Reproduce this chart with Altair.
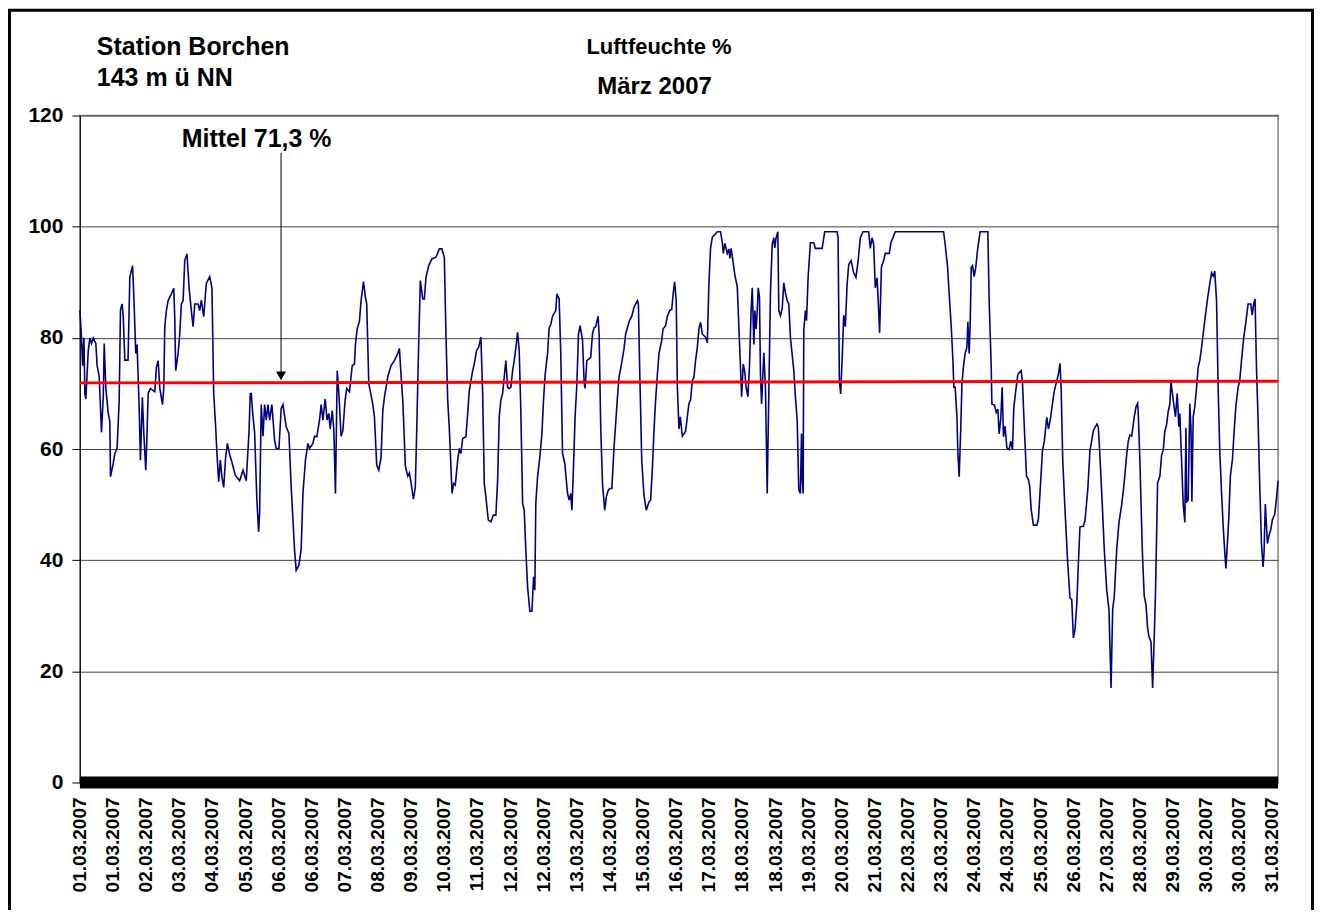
import altair as alt
import pandas as pd

# ---- data (hours since 01.03.2007 00:00, relative humidity %) ----
hours = [
    0.0, 1.0, 1.7, 2.5, 3.1, 3.7, 5.2, 6.2, 7.2, 8.3, 9.9, 10.7, 12.0, 13.4, 14.5, 15.1, 16.1, 17.6, 18.6, 19.0,
    20.7, 21.7, 23.1, 24.4, 25.2, 26.2, 26.9, 27.9, 29.9, 31.0, 32.7, 33.5, 34.7, 35.5, 36.8, 37.6, 38.8, 39.7,
    40.9, 41.7, 42.4, 43.8, 46.5, 47.5, 48.6, 49.6, 51.3, 52.1, 52.7, 53.7, 54.8, 56.8, 58.3, 58.9, 59.5, 61.0,
    62.0, 63.0, 64.1, 65.1, 66.5, 67.8, 69.2, 70.3, 71.3, 73.4, 74.4, 75.4, 76.9, 78.5, 80.6, 82.0, 83.1, 84.3,
    85.1, 86.2, 87.2, 88.2, 89.3, 90.5, 91.6, 93.0, 94.7, 96.5, 99.2, 101.3, 103.3, 105.0, 105.8, 106.4, 107.5,
    108.5, 109.9, 111.0, 111.6, 112.6, 113.7, 114.7, 115.7, 116.8, 117.8, 119.2, 120.9, 121.9, 123.6, 125.0,
    126.1, 128.1, 129.8, 131.2, 133.3, 134.3, 136.0, 137.4, 138.5, 140.1, 141.6, 142.6, 144.7, 145.7, 147.1,
    148.8, 149.8, 150.9, 152.3, 153.5, 154.6, 155.4, 156.7, 157.7, 158.7, 159.8, 160.8, 162.2, 163.3, 164.7,
    165.7, 167.4, 169.1, 170.5, 171.1, 172.2, 173.6, 174.6, 176.1, 177.3, 178.1, 179.4, 180.2, 181.9, 182.9,
    184.3, 185.6, 187.0, 188.1, 189.1, 191.2, 193.2, 195.3, 197.4, 198.4, 199.4, 200.5, 202.1, 203.6, 204.6,
    205.6, 207.1, 208.3, 209.1, 210.4, 211.4, 212.9, 213.9, 214.9, 216.6, 218.6, 221.1, 223.2, 224.8, 226.3,
    227.3, 228.4, 229.4, 231.1, 232.1, 233.1, 234.6, 235.6,
    236.6, 237.7, 239.7, 240.8, 241.8, 243.9, 244.9, 246.3, 247.6, 249.0, 250.1, 251.1, 252.1, 253.6, 255.2,
    256.7, 258.3, 259.4, 260.4, 261.4, 262.5, 263.5, 264.5, 265.6, 266.6, 267.6, 268.7, 269.7, 270.3, 271.8,
    272.8, 273.8, 274.9, 275.9, 276.9, 278.0, 279.4, 280.7, 281.7, 282.5, 283.1, 284.2, 285.6, 286.9, 287.9,
    288.9, 290.4, 291.4, 292.4, 293.5, 295.5, 296.2, 297.6, 298.6, 299.7, 301.1, 302.8, 303.8, 304.8, 305.5,
    306.3, 307.5, 308.6, 309.6, 310.6, 312.1, 313.1, 313.7, 314.8, 317.2, 318.3, 319.3, 320.3, 321.8, 322.4,
    323.4, 324.5, 325.9, 326.9, 328.0, 329.0, 330.3, 331.7, 333.8, 334.8, 335.8, 336.9, 337.9, 338.9, 341.0,
    342.7, 344.1, 346.2, 346.8, 347.6, 348.9, 350.3, 351.7, 353.4, 354.4, 355.5, 356.5, 357.5, 358.6, 359.6,
    361.3, 362.1, 363.7, 364.8, 366.2, 367.5, 368.5, 369.3, 370.3, 371.0, 372.0, 372.8, 374.1, 376.1, 377.2,
    378.2, 379.2, 380.3, 381.3, 382.3, 383.4, 384.4, 385.4, 386.5, 388.5, 389.6, 390.6, 391.6, 392.7, 395.8,
    397.8, 398.9, 399.5, 400.5, 402.0, 403.0, 403.6, 404.4, 405.7, 406.7, 408.2, 409.2, 410.2, 410.9, 411.9,
    412.9, 413.7, 414.8, 415.8, 416.8, 417.5, 418.5, 419.1, 419.9, 420.6, 421.2, 422.0, 422.6, 423.3, 424.1,
    424.7, 425.7, 426.8, 427.8, 428.8, 429.9, 430.9, 431.5, 432.3, 433.4, 434.0, 435.0, 436.1, 437.1, 438.1,
    439.2, 440.2, 441.2, 443.3, 444.3, 445.4, 446.4, 447.4, 448.1, 448.5, 449.1, 449.5, 450.5, 451.2, 452.2,
    453.6, 455.7, 456.7, 460.9, 462.5, 470.2, 470.8, 471.6, 472.4, 473.3, 474.3, 475.3, 476.4, 477.4, 478.9,
    480.5, 481.9, 483.2, 484.6, 486.3, 489.8, 490.8, 491.9, 492.9, 493.9, 495.0, 496.0, 496.6, 497.7, 499.1,
    500.1, 502.6, 503.6, 504.7, 506.3, 536.3, 537.3, 538.8, 539.8, 541.1, 542.1, 542.7, 543.5, 544.6, 545.2,
    546.0, 547.0, 547.7, 548.7, 549.7, 550.8, 551.4, 552.2, 552.8, 553.5, 554.3, 555.3, 556.3, 557.4, 559.0,
    563.8, 564.6, 565.9, 566.3, 567.9, 569.0, 570.0, 570.8, 571.8, 572.7, 573.5, 574.5, 575.6, 577.0, 578.0,
    579.1, 579.9, 581.1, 582.4, 583.2, 584.5, 585.3, 586.5, 587.8, 589.0, 589.8, 590.7, 592.1, 594.2, 595.2,
    596.2, 597.7, 598.9, 600.4, 601.4, 602.8, 603.9, 604.9, 606.6, 607.6, 608.6, 609.3, 610.3, 611.7, 613.4,
    614.8, 615.9, 616.9, 617.9, 619.0, 620.0, 621.0, 623.1, 624.1, 625.8, 627.2, 628.3, 629.3, 630.3, 631.6,
    632.4, 633.4, 634.9, 636.1, 637.6, 639.0, 640.3, 641.3, 642.3, 643.8, 645.2, 646.9, 647.9, 648.9, 650.0,
    651.0, 652.0, 653.1, 654.7, 655.8, 656.8, 657.2, 658.2, 659.7, 660.9, 662.0, 663.0, 663.8, 665.1, 666.1,
    667.1, 667.9, 669.2, 670.6, 671.7, 672.7, 673.7, 674.8, 675.8, 676.8, 677.5, 678.9, 680.3, 681.4, 682.4,
    683.0, 684.1, 685.1, 686.1, 686.8, 687.2, 688.2, 689.2, 689.9, 690.5, 691.3, 692.3, 693.4, 694.4, 695.4,
    696.5, 697.5, 698.5, 700.2, 701.6, 702.7, 703.7, 704.7, 705.8, 706.8, 707.8, 708.9, 709.9, 710.5, 711.6,
    712.6, 713.4, 714.4, 715.7, 716.7, 717.8, 719.2, 720.2, 721.3, 722.7, 724.0, 725.4, 727.1, 727.9, 728.9,
    729.7, 730.6, 731.6, 732.6, 733.7, 734.7, 735.3, 736.1, 737.4, 738.4, 739.5, 740.5, 741.9, 743.0, 744.0,
]
humidity = [
    85, 80, 75, 80, 70, 69, 77.7, 80, 79, 80, 79, 75, 73, 63, 69.3, 79, 71, 66.4, 65, 55,
    57.4, 59.2, 60.1, 68.7, 85, 86.1, 84, 76, 76, 90.9, 93, 87.5, 77.2, 78.8, 67.5, 58, 69.3, 62.8,
    56.2, 62.8, 70, 70.9, 70.3, 74.7, 75.9, 71, 68, 71, 81.9, 84.9, 86.7, 87.9, 88.9, 83.6, 74.1, 77.2,
    80.7, 86.1, 86.7, 93.9, 95.1, 89, 84.9, 82, 86.1, 86.1, 84.9, 86.8, 83.8, 89.8, 91, 89, 70, 64,
    59.2, 54.1, 58, 55, 53.1, 58.5, 61, 59, 57.3, 55.3, 54.3, 56.2, 54.3, 63, 70, 70, 65.8,
    63, 50.8, 45.1, 48.5, 68, 62.3, 68, 65.2, 68, 65.2, 68, 61.6, 60.1, 60.1, 67.3,
    68, 64, 62.8, 53.2, 41.8, 38.2, 39.1, 42, 52, 58.1, 61, 60.1, 61, 62.3, 62.2,
    65.2, 68, 65.2, 69, 65.2, 66.4, 63.6, 66.9, 63.3, 52, 74.1, 70, 62.3, 63.3, 68.8,
    70.9, 70.3, 75, 75.3, 78.8, 81.6, 83, 86.7, 90.1, 87.3, 86.1, 71.7, 70.6, 68, 65.8,
    57.1, 56.2, 58.5, 66.9, 69.3, 73, 75, 75.9, 77.2, 78.1, 73.4, 68.8, 56.9, 55.1, 55.7,
    54, 51, 53.2, 62.8, 79.2, 90.3, 87, 87, 90.9, 93, 94.2, 94.5, 96, 96, 94.5,
    80.7, 68.8, 63.6, 52, 53.8, 53.5, 58, 60.1,
    59.2, 61.9, 62.2, 66.4, 70.5, 74.1, 75.3, 77.7, 78.3, 80.1, 70, 53.8, 51.4, 47.2, 46.9,
    48.1, 48.1, 54.4, 65.8, 68.8, 70, 73, 75.9, 71.1, 70.9, 71.1, 74.1, 75.9, 77.2, 81,
    77.7, 66.9, 50.2, 49, 41.8, 35.2, 30.8, 30.8, 37, 34.6, 50.2, 55, 58.5, 62.8, 68.8,
    73.4, 77.2, 81.8, 82.4, 83.9, 84.9, 87.9, 87, 77.2, 59.2, 57.4, 52, 50.8, 52, 49,
    55, 65.8, 71.7, 80.7, 82.2, 79.6, 72, 70.9, 75.9, 76.5, 80.7, 81.8, 82, 83.9, 80.7,
    64, 53.8, 49, 51.4, 52.5, 52.9, 52.9, 60.4, 69.3, 73, 74.5, 76.3, 78.1, 80.7, 82.9,
    83.9, 85.5, 86.7, 86.1, 74.5, 57.7, 51.6, 49, 50.5, 50.8, 56.6, 63.4, 68.8, 73.4, 77.2,
    79.6, 81.6, 82.2, 83.9, 84.9, 85.1, 88.2, 90.1, 86.7, 71.1, 63.6, 65.8, 62.3, 63.2, 65.8,
    68.2, 68.8, 72.3, 72.9, 75.9, 78.3, 81.6, 82.8, 80.7, 80.1, 79.1, 89.8, 96.1, 98.1, 99.1,
    99.1, 97.2, 95.2, 97, 95.2, 96, 94.3, 96.1, 93.4, 91.3, 89.2, 81.9, 74.7, 69.4, 75.3,
    73.8, 71.1, 69.4, 75, 84.9, 89, 78.8, 84.9, 81.6, 84.9, 89, 87.3, 73.4, 68.1, 73.4,
    77.3, 71.1, 52, 70.4, 88, 96.8, 98, 96.2, 98, 99.1, 84.9, 84, 85.3, 89.9, 88.1,
    86.7, 86.1, 80.1, 74.1, 69.4, 65.2, 52.6, 52, 62.8, 55, 52, 81.3, 84.9, 83.1, 91,
    97.1, 97.1, 96.1, 96.1, 99.1, 99.1, 98, 72.3, 69.9, 76, 84.1, 82, 89.6, 93.2, 93.9,
    91.7, 90.9, 93.7, 98, 99.1, 99.1, 96.1, 98, 96.8, 89, 90.8, 84.9, 80.9, 92.7, 93.9,
    95.2, 95.2, 97.1, 97.9, 99.1, 99.1, 96.8, 92.7, 87.8, 81.9, 75.9, 71.1, 71.1, 65.8, 59.2,
    55, 64, 71.7, 75, 77.2, 78.3, 82.9, 77.2, 82.3, 92.7, 93, 91, 92.7, 95.8, 99.1,
    99.1, 86.7, 74.7, 68.1, 67.9, 66.6, 67.2, 62.7, 65.4, 71.1, 62.2, 64.1, 60.2, 59.9, 61.4,
    59.9, 67.4, 70.4, 73.4, 73.7, 74.1, 71.9, 63.5, 55.1, 54.5, 53.3, 49.1, 46.3, 46.3, 47.4,
    52.2, 59.7, 61.5, 65.7, 63.6, 65.7, 68.1, 70.2, 72.3, 73.4, 75.4, 71.1, 58, 49.1, 39.4,
    33.2, 32.9, 26, 27.5, 31.9, 39.4, 46, 46.1, 47.1, 52.5, 59.7, 61.5, 63.3, 63.9, 64.5,
    63.9, 58.7, 49.7, 41.9, 34.7, 31.1, 17, 31.1, 33.5, 41.9, 46.7, 50, 52.4, 55.4, 59,
    61.4, 62.5, 62.3, 65.8, 67.6, 68.2, 66.4, 57.9, 41.9, 33.5, 32, 27.8, 26.3, 25.3, 17,
    25.9, 34.1, 53.9, 55.1, 58.9, 59.8, 63.2, 64.4, 66.8, 68, 72.1, 68.8, 65.8, 70, 64,
    66.4, 57.9, 50.1, 46.8, 63.8, 50.5, 50.8, 68.2, 64, 50.5, 65.8, 67.6, 71.1, 74.7, 75.9,
    78.3, 80.7, 83.1, 87, 89.7, 91.7, 91.1, 92, 86.7, 71.1, 59.7, 52.2, 46.3, 43.3, 38.5,
    43.3, 47.5, 55.2, 58.2, 63, 67.7, 71.1, 72.3, 75.9, 80.1, 82.8, 86.1, 86.1, 84.1, 86.1,
    87, 74.7, 65.2, 53.8, 43, 38.8, 41.3, 50.1, 43, 44.5, 45.5, 47.3, 48.2, 51, 54.3,
]

x_labels = [
    "01.03.2007", "01.03.2007", "02.03.2007", "03.03.2007", "04.03.2007", "05.03.2007", "06.03.2007",
    "06.03.2007", "07.03.2007", "08.03.2007", "09.03.2007", "10.03.2007", "11.03.2007", "12.03.2007",
    "12.03.2007", "13.03.2007", "14.03.2007", "15.03.2007", "16.03.2007", "17.03.2007", "18.03.2007",
    "18.03.2007", "19.03.2007", "20.03.2007", "21.03.2007", "22.03.2007", "23.03.2007", "24.03.2007",
    "24.03.2007", "25.03.2007", "26.03.2007", "27.03.2007", "28.03.2007", "29.03.2007", "30.03.2007",
    "30.03.2007", "31.03.2007",
]
y_ticks = [0, 20, 40, 60, 80, 100, 120]

mean_hours = [0, 744]
mean_values = [71.9, 72.2]

title_station = "Station Borchen"
title_height = "143 m ü NN"
title_param = "Luftfeuchte %"
title_month = "März 2007"
mean_label = "Mittel 71,3 %"

LABEL_STEP = 20.57  # hours between category labels (category axis label interval)

assert len(hours) == len(humidity)

df = pd.DataFrame({"h": hours, "v": humidity})
mean_df = pd.DataFrame({"h": mean_hours, "v": mean_values})
label_df = pd.DataFrame({"h": [i * LABEL_STEP for i in range(len(x_labels))], "label": x_labels})
one = alt.Data(values=[{}])

FONT = "Liberation Sans"
x_scale = alt.Scale(domain=[0, 744], nice=False)
y_scale = alt.Scale(domain=[0, 120], nice=False)

x_axis = alt.Axis(labels=False, ticks=False, domain=False, grid=False, title=None)
y_axis = alt.Axis(
    values=y_ticks, labelFontSize=21, labelFontWeight="bold", labelColor="black", labelFont=FONT,
    labelPadding=9, tickSize=8, tickColor="black", domainColor="black", domainWidth=1,
    grid=True, gridColor="#404040", gridWidth=1, title=None,
)

border = alt.Chart(one).mark_rect(
    x=-70.5, x2=1234.5, y=-105.5, y2=820, fillOpacity=0, stroke="black", strokeWidth=3
)
band = alt.Chart(one).mark_rect(x=0, x2=1200, y=662, y2=674, color="black")

line = alt.Chart(df).mark_line(color="#000080", strokeWidth=1.6).encode(
    x=alt.X("h:Q", scale=x_scale, axis=x_axis),
    y=alt.Y("v:Q", scale=y_scale, axis=y_axis),
)
trend = alt.Chart(mean_df).mark_line(color="#ff0000", strokeWidth=3).encode(
    x=alt.X("h:Q"), y=alt.Y("v:Q")
)

x_label_text = alt.Chart(label_df).mark_text(
    angle=270, align="right", baseline="middle", fontSize=19, fontWeight="bold",
    font=FONT, color="black", y=683
).encode(x=alt.X("h:Q"), text="label:N")

arrow_line = alt.Chart(one).mark_rule(color="black", strokeWidth=1).encode(
    x=alt.datum(124.9), y=alt.datum(113.3), y2=alt.datum(73.8)
)
arrow_head = alt.Chart(one).mark_point(
    shape="triangle-down", filled=True, size=100, color="black", opacity=1
).encode(x=alt.datum(124.9), y=alt.datum(73.17))
mittel = alt.Chart(one).mark_text(
    text=mean_label, align="left", baseline="alphabetic", fontSize=25, fontWeight="bold",
    font=FONT, color="black"
).encode(x=alt.datum(63.2), y=alt.datum(114.25))

t1 = alt.Chart(one).mark_text(text=title_station, x=17, y=-60.5, align="left", baseline="alphabetic",
                              fontSize=25, fontWeight="bold", font=FONT, color="black")
t2 = alt.Chart(one).mark_text(text=title_height, x=17, y=-30, align="left", baseline="alphabetic",
                              fontSize=25, fontWeight="bold", font=FONT, color="black")
t3 = alt.Chart(one).mark_text(text=title_param, x=580, y=-62, align="center", baseline="alphabetic",
                              fontSize=22, fontWeight="bold", font=FONT, color="black")
t4 = alt.Chart(one).mark_text(text=title_month, x=575.5, y=-22, align="center", baseline="alphabetic",
                              fontSize=24, fontWeight="bold", font=FONT, color="black")

chart = alt.layer(
    border, band, line, trend, x_label_text, arrow_line, arrow_head, mittel, t1, t2, t3, t4
).properties(
    width=1200, height=668,
    padding={"left": 72, "top": 107, "right": 36, "bottom": 127},
    autosize=alt.AutoSizeParams(type="none"),
    background="white",
).configure(font=FONT).configure_view(stroke="#808080", strokeWidth=1.5)

chart.save("out.html", embed_options={"renderer": "svg", "actions": False})
